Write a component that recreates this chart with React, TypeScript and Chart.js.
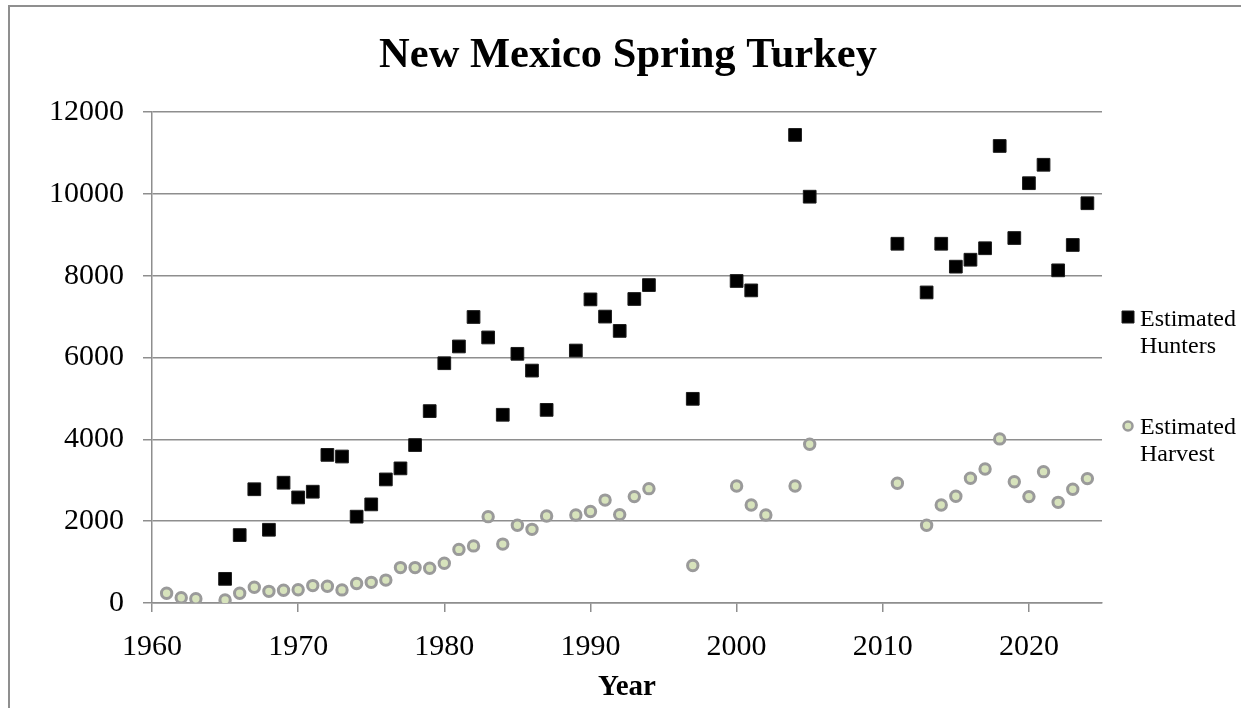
import React, { useEffect, useRef } from "react";
import { Chart, registerables } from "chart.js";

Chart.register(...registerables);

const TITLE = "New Mexico Spring Turkey";
const X_TITLE = "Year";
const HUNTERS_LABEL = ["Estimated", "Hunters"];
const HARVEST_LABEL = ["Estimated", "Harvest"];

const hunterYears = [
  1965, 1966, 1967, 1968, 1969, 1970, 1971, 1972, 1973, 1974, 1975, 1976, 1977, 1978, 1979,
  1980, 1981, 1982, 1983, 1984, 1985, 1986, 1987, 1989, 1990, 1991, 1992, 1993, 1994, 1997,
  2000, 2001, 2004, 2005, 2011, 2013, 2014, 2015, 2016, 2017, 2018, 2019, 2020, 2021, 2022,
  2023, 2024,
];
const hunterValues = [
  590, 1660, 2780, 1790, 2940, 2580, 2720, 3620, 3580, 2110, 2410, 3020, 3290, 3860, 4690,
  5860, 6270, 6990, 6490, 4600, 6090, 5680, 4720, 6170, 7420, 7000, 6650, 7430, 7770, 4990,
  7870, 7640, 11440, 9930, 8780, 7590, 8780, 8220, 8390, 8670, 11170, 8920, 10260, 10710, 8130,
  8750, 9770,
];

const harvestYears = [
  1961, 1962, 1963, 1965, 1966, 1967, 1968, 1969, 1970, 1971, 1972, 1973, 1974, 1975, 1976,
  1977, 1978, 1979, 1980, 1981, 1982, 1983, 1984, 1985, 1986, 1987, 1989, 1990, 1991, 1992,
  1993, 1994, 1997, 2000, 2001, 2002, 2004, 2005, 2011, 2013, 2014, 2015, 2016, 2017, 2018,
  2019, 2020, 2021, 2022, 2023, 2024,
];
const harvestValues = [
  240, 130, 105, 75, 240, 385, 285, 310, 325, 425, 410, 320, 475, 505, 560,
  865, 865, 850, 970, 1310, 1395, 2110, 1440, 1900, 1800, 2125, 2150, 2235, 2515, 2160,
  2600, 2795, 915, 2860, 2395, 2150, 2860, 3880, 2925, 1900, 2395, 2610, 3050, 3275, 4010,
  2965, 2600, 3210, 2460, 2780, 3040,
];

const xTicks = [1960, 1970, 1980, 1990, 2000, 2010, 2020];
const yTicks = [0, 2000, 4000, 6000, 8000, 10000, 12000];

const SERIF = "'Liberation Serif', 'Times New Roman', serif";
const GRID = "#8e8e8e";
const HUNTER_FILL = "#000000";
const HUNTER_BORDER = "#1c1c1c";
const HARVEST_FILL = "#d7e3bc";
const HARVEST_BORDER = "#9a9a9a";

const overlayPlugin = {
  id: "overlay",
  afterDraw(chart: any) {
    const { ctx, chartArea } = chart;
    ctx.save();
    // title
    ctx.fillStyle = "#000";
    ctx.font = `bold 42.5px ${SERIF}`;
    ctx.textAlign = "center";
    ctx.textBaseline = "alphabetic";
    ctx.fillText(TITLE, (chartArea.left + chartArea.right) / 2 + 1, 60);

    // legend
    const mx = chartArea.right + 26;
    const tx = chartArea.right + 38;
    ctx.font = `24px ${SERIF}`;
    ctx.textAlign = "left";
    // hunters
    const y1 = chartArea.top + 205;
    ctx.fillStyle = HUNTER_FILL;
    ctx.strokeStyle = HUNTER_BORDER;
    ctx.lineWidth = 1;
    ctx.beginPath();
    ctx.rect(mx - 6, y1 - 6, 12, 12);
    ctx.fill();
    ctx.stroke();
    ctx.fillStyle = "#000";
    ctx.fillText(HUNTERS_LABEL[0], tx, y1 + 9);
    ctx.fillText(HUNTERS_LABEL[1], tx, y1 + 36);
    // harvest
    const y2 = chartArea.top + 314;
    ctx.beginPath();
    ctx.arc(mx, y2, 4.5, 0, Math.PI * 2);
    ctx.fillStyle = HARVEST_FILL;
    ctx.fill();
    ctx.lineWidth = 2.5;
    ctx.strokeStyle = HARVEST_BORDER;
    ctx.stroke();
    ctx.fillStyle = "#000";
    ctx.fillText(HARVEST_LABEL[0], tx, y2 + 8);
    ctx.fillText(HARVEST_LABEL[1], tx, y2 + 35);
    ctx.restore();
  },
};

export default function App() {
  const ref = useRef<HTMLCanvasElement | null>(null);

  useEffect(() => {
    if (!ref.current) return;
    const chart = new Chart(ref.current, {
      type: "scatter",
      data: {
        datasets: [
          {
            label: HUNTERS_LABEL.join(" "),
            data: hunterYears.map((x, i) => ({ x, y: hunterValues[i] })),
            pointStyle: "rect",
            pointRadius: 9,
            pointBackgroundColor: HUNTER_FILL,
            pointBorderColor: HUNTER_BORDER,
            pointBorderWidth: 1,
            showLine: false,
          },
          {
            label: HARVEST_LABEL.join(" "),
            data: harvestYears.map((x, i) => ({ x, y: harvestValues[i] })),
            pointStyle: "circle",
            pointRadius: 5.2,
            pointBackgroundColor: HARVEST_FILL,
            pointBorderColor: HARVEST_BORDER,
            pointBorderWidth: 3,
            showLine: false,
          },
        ],
      },
      options: {
        responsive: false,
        animation: false,
        layout: { padding: { top: 105, right: 139, left: 0, bottom: 0 } },
        plugins: {
          legend: { display: false },
          title: { display: false },
          tooltip: { enabled: false },
        },
        scales: {
          x: {
            type: "linear",
            min: 1960,
            max: 2025,
            afterBuildTicks: (scale: any) => {
              scale.ticks = xTicks.map((v) => ({ value: v }));
            },
            afterFit: (scale: any) => {
              scale.height = 105;
            },
            ticks: {
              color: "#000",
              font: { family: SERIF, size: 30 },
              padding: 17,
              maxRotation: 0,
              callback: (v: any) => String(v),
            },
            grid: {
              drawOnChartArea: false,
              drawTicks: true,
              tickLength: 9,
              color: GRID,
              lineWidth: 1.5,
            },
            border: { display: true, color: GRID, width: 1.5 },
            title: {
              display: true,
              text: X_TITLE,
              color: "#000",
              font: { family: SERIF, size: 29, weight: "bold" },
              padding: { top: 0, bottom: 3 },
            },
          },
          y: {
            type: "linear",
            min: 0,
            max: 12000,
            afterBuildTicks: (scale: any) => {
              scale.ticks = yTicks.map((v) => ({ value: v }));
            },
            afterFit: (scale: any) => {
              scale.width = 142;
            },
            ticks: {
              color: "#000",
              font: { family: SERIF, size: 30 },
              padding: 19,
              callback: (v: any) => String(v),
            },
            grid: {
              drawOnChartArea: true,
              drawTicks: true,
              tickLength: 9,
              color: GRID,
              lineWidth: 1.5,
            },
            border: { display: true, color: GRID, width: 1.5 },
          },
        },
      },
      plugins: [overlayPlugin],
    });
    return () => chart.destroy();
  }, []);

  return (
    <div
      style={{
        position: "absolute",
        left: 8,
        top: 5,
        width: 1233,
        height: 703,
        borderLeft: "2px solid #8f8f8f",
        borderTop: "2px solid #8f8f8f",
        boxSizing: "border-box",
        background: "#fff",
        overflow: "hidden",
      }}
    >
      <canvas ref={ref} width={1231} height={701} style={{ display: "block" }} />
    </div>
  );
}
